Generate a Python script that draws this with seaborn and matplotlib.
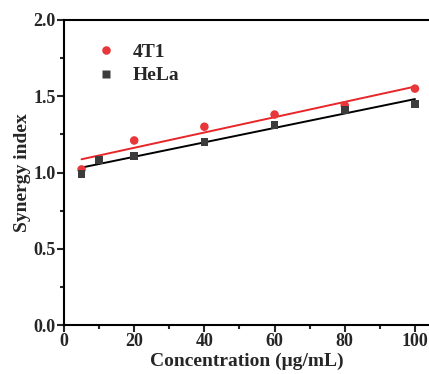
import numpy as np
import pandas as pd
import matplotlib
matplotlib.use("Agg")
import matplotlib.pyplot as plt
import seaborn as sns
from matplotlib.ticker import MultipleLocator

# --- DATA ---
conc_4t1 = [5, 20, 40, 60, 80, 100]
si_4t1 = [1.02, 1.21, 1.30, 1.38, 1.44, 1.55]

conc_hela = [5, 10, 20, 40, 60, 80, 100]
si_hela = [0.99, 1.08, 1.11, 1.20, 1.31, 1.41, 1.45]

x_ticks = [0, 20, 40, 60, 80, 100]
y_ticks = [0.0, 0.5, 1.0, 1.5, 2.0]

df = pd.concat([
    pd.DataFrame({'Concentration': conc_4t1, 'SI': si_4t1, 'Cell': '4T1'}),
    pd.DataFrame({'Concentration': conc_hela, 'SI': si_hela, 'Cell': 'HeLa'}),
], ignore_index=True)

sns.set_theme(style="ticks")
plt.rcParams['font.family'] = ['Liberation Serif', 'DejaVu Serif']
plt.rcParams['font.weight'] = 'bold'

RED = '#e8373a'
GREY = '#3c3c3c'

fig = plt.figure(figsize=(4.29, 3.74), dpi=100)
ax = fig.add_axes([64 / 429, 49 / 374, 365 / 429, 305 / 374])

# fitted lines
sns.regplot(data=df[df.Cell == '4T1'], x='Concentration', y='SI', ax=ax,
            scatter=False, ci=None, color='#e8262a', line_kws={'lw': 1.4})
sns.regplot(data=df[df.Cell == 'HeLa'], x='Concentration', y='SI', ax=ax,
            scatter=False, ci=None, color='black', line_kws={'lw': 1.4})

# points
sns.scatterplot(data=df, x='Concentration', y='SI', hue='Cell', style='Cell', size='Cell',
                markers={'4T1': 'o', 'HeLa': 's'}, palette={'4T1': RED, 'HeLa': GREY},
                sizes={'4T1': 38, 'HeLa': 30}, edgecolor='none', ax=ax, zorder=3)

ax.set_xlim(0, 104)
ax.set_ylim(0, 2.0)
ax.set_xticks(x_ticks)
ax.set_yticks(y_ticks)
ax.set_yticklabels([f"{v:.1f}" for v in y_ticks])
ax.xaxis.set_minor_locator(MultipleLocator(10))
ax.yaxis.set_minor_locator(MultipleLocator(0.25))

ax.tick_params(which='major', direction='out', length=5, width=1.5, labelsize=13, pad=1)
ax.tick_params(which='minor', direction='out', length=3, width=1.5)
for lbl in ax.get_xticklabels() + ax.get_yticklabels():
    lbl.set_fontweight('bold')

for s in ['left', 'bottom', 'top']:
    ax.spines[s].set_linewidth(1.5)
    ax.spines[s].set_color('black')
ax.spines['right'].set_visible(False)

ax.set_xlabel('Concentration (μg/mL)', fontsize=14, fontweight='bold', labelpad=2)
ax.set_ylabel('Synergy index', fontsize=14, fontweight='bold', labelpad=2)

leg = ax.legend(loc='upper left', frameon=False, prop={'size': 14, 'weight': 'bold'},
                bbox_to_anchor=(0.066, 0.95), borderaxespad=0,
                handlelength=1.0, handletextpad=0.9, labelspacing=0.32)

fig.savefig('out.png', dpi=100)
